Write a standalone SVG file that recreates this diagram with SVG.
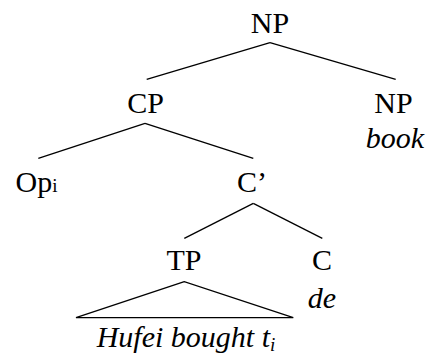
<svg xmlns="http://www.w3.org/2000/svg" width="429" height="356" viewBox="0 0 429 356">
<rect width="429" height="356" fill="#fff"/>
<g id="connectors" stroke="#000" stroke-width="1.3" fill="none">
<line x1="270" y1="42.7" x2="146.7" y2="79.3"/>
<line x1="270" y1="42.7" x2="395.7" y2="79.3"/>
<line x1="145" y1="123.3" x2="38.3" y2="158.3"/>
<line x1="145" y1="123.3" x2="253.3" y2="158.3"/>
<line x1="253.3" y1="203.3" x2="184.3" y2="238.3"/>
<line x1="253.3" y1="203.3" x2="322.3" y2="238.3"/>
<polygon points="184.3,281.7 76,317.7 293.3,317.7"/>
</g>
<g id="np-root"><text x="270" y="33" font-size="30" font-family="Times New Roman" style="font-family:Times New Roman,Liberation Serif,serif" text-anchor="middle">NP</text></g>
<g id="cp"><text x="145.5" y="113" font-size="30" font-family="Times New Roman" style="font-family:Times New Roman,Liberation Serif,serif" text-anchor="middle">CP</text></g>
<g id="np-book"><text x="393.5" y="113" font-size="30" font-family="Times New Roman" style="font-family:Times New Roman,Liberation Serif,serif" text-anchor="middle">NP</text><text x="395" y="148" font-size="30" font-family="Times New Roman" style="font-family:Times New Roman,Liberation Serif,serif" font-style="italic" text-anchor="middle">book</text></g>
<g id="op"><text x="36.5" y="192" font-size="30" font-family="Times New Roman" style="font-family:Times New Roman,Liberation Serif,serif" text-anchor="middle">Op<tspan font-size="19">i</tspan></text></g>
<g id="cbar"><text x="252" y="192" font-size="30" font-family="Times New Roman" style="font-family:Times New Roman,Liberation Serif,serif" text-anchor="middle">C&#8217;</text></g>
<g id="tp"><text x="184" y="270" font-size="30" font-family="Times New Roman" style="font-family:Times New Roman,Liberation Serif,serif" text-anchor="middle">TP</text></g>
<g id="c"><text x="322" y="270" font-size="30" font-family="Times New Roman" style="font-family:Times New Roman,Liberation Serif,serif" text-anchor="middle">C</text><text x="322" y="308" font-size="30" font-family="Times New Roman" style="font-family:Times New Roman,Liberation Serif,serif" font-style="italic" text-anchor="middle">de</text></g>
<g id="hufei"><text x="186" y="347" font-size="30" font-family="Times New Roman" style="font-family:Times New Roman,Liberation Serif,serif" font-style="italic" text-anchor="middle">Hufei bought t<tspan font-size="19" dy="4">i</tspan></text></g>
</svg>
